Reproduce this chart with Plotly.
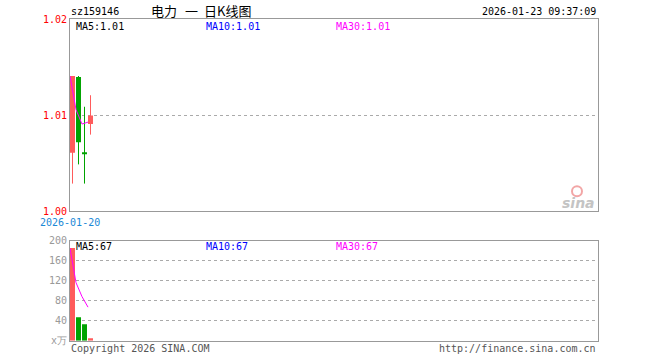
import plotly.graph_objects as go

# ---- data ----
days = [0, 1, 2, 3]
opens = [1.0061, 1.0140, 1.0061, 1.0091]
closes = [1.0141, 1.0072, 1.0060, 1.0100]
highs = [1.0141, 1.0141, 1.0109, 1.0121]
lows = [1.0029, 1.0049, 1.0029, 1.0080]
ma_price = [1.0141, 1.0106, 1.0091, 1.0093]
volumes = [185, 47, 33, 5]
ma_vol = [185, 116, 88, 67]
price_ticks = [1.00, 1.01, 1.02]
price_tick_text = ["1.00", "1.01", "1.02"]
vol_ticks = [0, 40, 80, 120, 160, 200]
vol_tick_text = ["x万", "40", "80", "120", "160", "200"]
first_date = "2026-01-20"
code = "sz159146"
title_parts = ["电力", "一", "日K线图"]
stamp = "2026-01-23 09:37:09"

RED = "#ff5b5b"
GREEN = "#00a300"
MONO = "DejaVu Sans Mono"
W, H = 660, 360
# vertical compensation for how the page is photographed
SY, OY = 0.964, 5.72

def px_x(p):
    return p / W

def px_y(p):
    return 1 - ((p - OY) / SY) / H

colors = [RED if c >= o else GREEN for o, c in zip(opens, closes)]

fig = go.Figure()

# wicks
for d, lo, hi, col in zip(days, lows, highs, colors):
    fig.add_trace(go.Scatter(x=[d, d], y=[lo, hi], mode="lines",
                             line=dict(color=col, width=1),
                             xaxis="x", yaxis="y", hoverinfo="skip"))
# bodies
bases = [min(o, c) for o, c in zip(opens, closes)]
heights = [max(abs(c - o), 0.0001) for o, c in zip(opens, closes)]
fig.add_trace(go.Bar(x=days, y=heights, base=bases, width=0.83,
                     marker=dict(color=colors, line=dict(width=0)),
                     xaxis="x", yaxis="y"))
# price MA
fig.add_trace(go.Scatter(x=days, y=ma_price, mode="lines",
                         line=dict(color="#ff00ff", width=1),
                         xaxis="x3", yaxis="y"))
# volume bars
fig.add_trace(go.Bar(x=days, y=volumes, width=0.83,
                     marker=dict(color=colors, line=dict(width=0)),
                     xaxis="x2", yaxis="y2"))
fig.add_trace(go.Scatter(x=days, y=ma_vol, mode="lines",
                         line=dict(color="#ff00ff", width=1),
                         xaxis="x4", yaxis="y2"))

xdom = [px_x(70), px_x(598)]
xr = [-0.417, 87.583]
xr_ma = [0, 88]
common_x = dict(domain=xdom, showgrid=False, zeroline=False, showticklabels=False,
                showline=True, linecolor="#999999", linewidth=1, mirror=True, fixedrange=True)
fig.update_layout(
    width=W, height=H, margin=dict(l=0, r=0, t=0, b=0, pad=0), autosize=False,
    paper_bgcolor="white", plot_bgcolor="white", showlegend=False,
    barmode="overlay",
    xaxis=dict(range=xr, anchor="y", **common_x),
    xaxis2=dict(range=xr, anchor="y2", **common_x),
    xaxis3=dict(range=xr_ma, overlaying="x", anchor="y", visible=False),
    xaxis4=dict(range=xr_ma, overlaying="x2", anchor="y2", visible=False),
    yaxis=dict(domain=[px_y(211), px_y(20)], range=[1.00, 1.02], anchor="x",
               tickvals=price_ticks, ticktext=price_tick_text,
               tickfont=dict(family=MONO, size=10, color="#ff0000"),
               showgrid=True, gridcolor="#aaaaaa", griddash="dot", gridwidth=1,
               zeroline=False, showline=True, linecolor="#999999", mirror=True, ticks=""),
    yaxis2=dict(domain=[px_y(339.5), px_y(240)], range=[0, 200], anchor="x2",
                tickvals=vol_ticks, ticktext=vol_tick_text,
                tickfont=dict(family=MONO, size=10, color="#999999"),
                showgrid=True, gridcolor="#aaaaaa", griddash="dot", gridwidth=1,
                zeroline=False, showline=True, linecolor="#999999", mirror=True, ticks=""),
)

def note(text, x, y, color="black", xanchor="left", size=10, family=MONO, **kw):
    fig.add_annotation(text=text, x=px_x(x), y=px_y(y), xref="paper", yref="paper",
                       xanchor=xanchor, yanchor="middle", showarrow=False,
                       font=dict(family=family, size=size, color=color), **kw)

note(code, 69, 12)
for part, x in zip(title_parts, [149, 183, 202]):
    note(part, x, 11, family="Noto Sans CJK SC", size=13)
note(stamp, 598, 12, xanchor="right")
note("MA5:1.01", 74, 27)
note("MA10:1.01", 204, 27, color="#0000ff")
note("MA30:1.01", 334, 27, color="#ff00ff")
note("MA5:67", 74, 246)
note("MA10:67", 204, 246, color="#0000ff")
note("MA30:67", 334, 246, color="#ff00ff")
note(first_date, 70, 222, color="#1a88d6", xanchor="center")
note("Copyright 2026 SINA.COM", 69, 347, color="#555555")
note("http://finance.sina.com.cn", 598, 347, color="#555555", xanchor="right")
note("<i><b>sina</b></i>", 597, 203, color="#c4c4c4", xanchor="right", size=14,
     family="DejaVu Sans")
# sina "eye" logo mark
fig.add_shape(type="circle", xref="paper", yref="paper",
              x0=px_x(572), x1=px_x(582), y0=px_y(196), y1=px_y(186),
              line=dict(color="#f2a6a6", width=2), fillcolor="rgba(0,0,0,0)")

fig.write_html("out.html", config={"displayModeBar": False},
               post_script="document.body.style.margin='0';document.body.style.overflow='hidden';")
